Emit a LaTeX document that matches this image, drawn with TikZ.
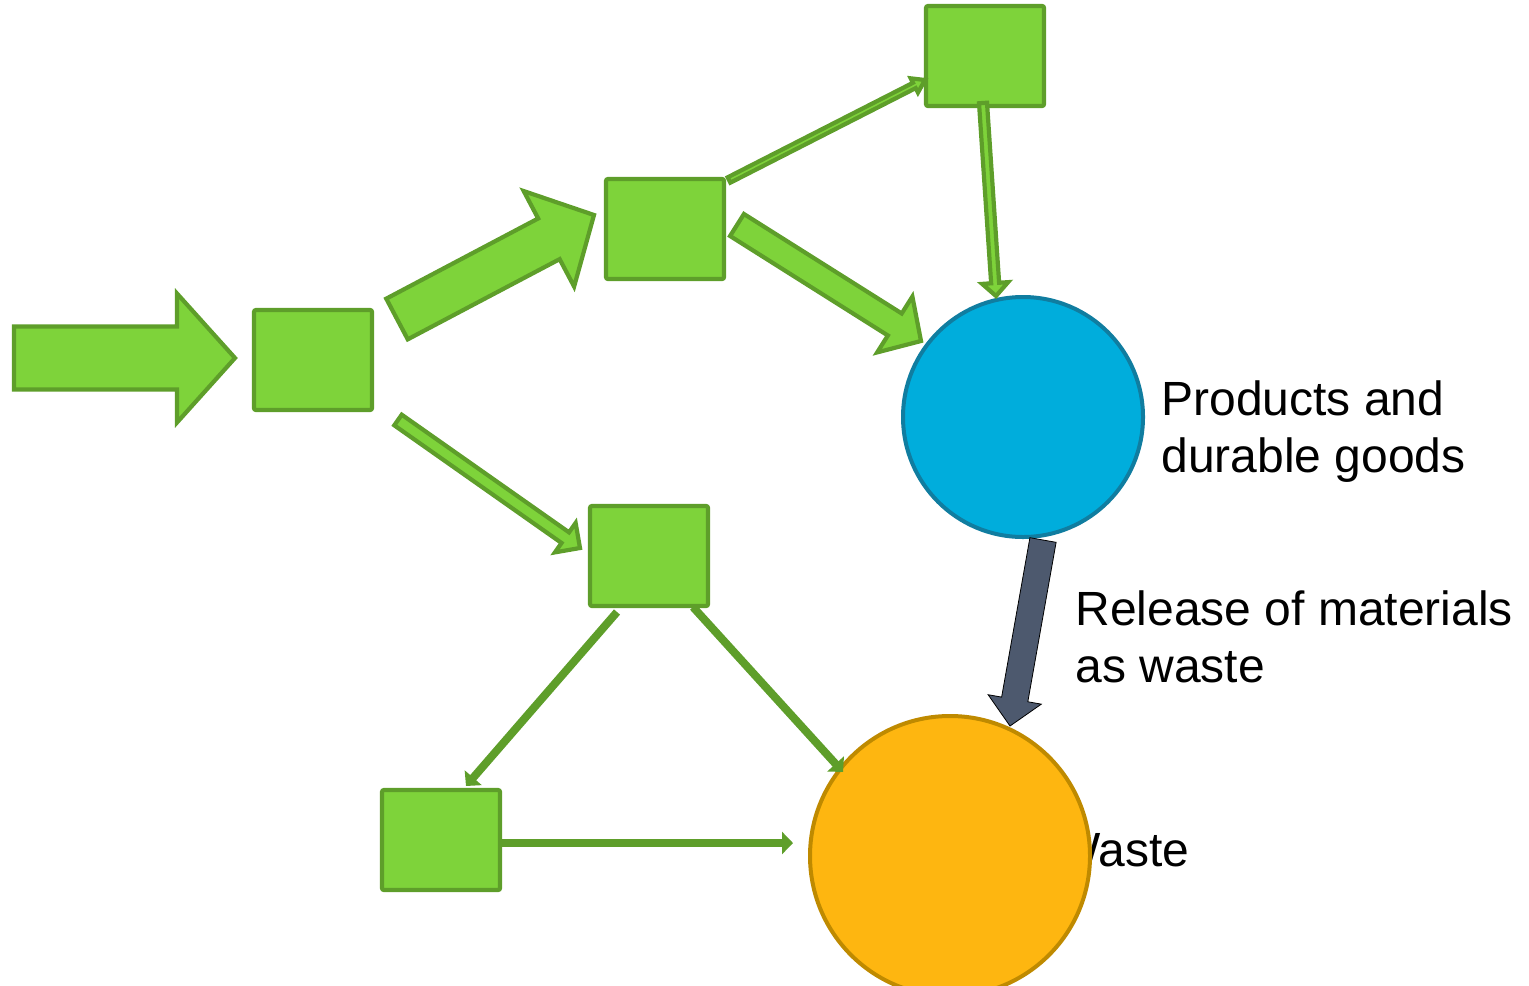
\documentclass[tikz,border=0pt]{standalone}
\usepackage{fontspec}
\setmainfont{Liberation Sans}
\usetikzlibrary{calc,arrows.meta}

\definecolor{boxfill}{HTML}{7ED33A}
\definecolor{boxline}{HTML}{5E9E2A}
\definecolor{prodfill}{HTML}{00ADDC}
\definecolor{prodline}{HTML}{107DA0}
\definecolor{wastefill}{HTML}{FEB610}
\definecolor{wasteline}{HTML}{BF8A00}
\definecolor{release}{HTML}{4D596E}

% Block arrow from #2 to #3: shaft half width #4, head half width #5, head length #6
\newcommand\flowarrow[6][]{%
  \draw[#1] ($(#2)!#4!90:(#3)$)
    -- ($(#3)!#6!(#2)!#4!-90:(#2)$)
    -- ($(#3)!#6!(#2)!#5!-90:(#2)$)
    -- (#3)
    -- ($(#3)!#6!(#2)!#5!90:(#2)$)
    -- ($(#3)!#6!(#2)!#4!90:(#2)$)
    -- ($(#2)!#4!-90:(#3)$) -- cycle;}

\tikzset{
  stage/.style={draw=boxline, fill=boxfill, line width=2.1pt, rounded corners=1pt,
    minimum width=59pt, minimum height=50pt, inner sep=0pt},
  pool/.style={circle, line width=2pt, inner sep=0pt},
  flow/.style={draw=boxline, fill=boxfill, line width=2.1pt},
  flowline/.style={draw=boxline, line width=4pt,
    -{Triangle[length=5.5pt,width=11pt]}},
  releaseflow/.style={fill=release},
  label/.style={font=\fontsize{24}{28.5}\selectfont, inner sep=0pt,
    align=left, anchor=base west}
}

\begin{document}
\begin{tikzpicture}[x=0.5pt,y=-0.5pt]
\path[use as bounding box] (0,0) rectangle (1529,985);

% process stages
\node[stage] (s1) at (313,360) {};
\node[stage] (s2) at (665,229) {};
\node[stage] (s3) at (985,56) {};
\node[stage] (s4) at (649,556) {};
\node[stage] (s5) at (441,840) {};

% stocks (the waste label sits partly under its circle)
\node[pool, draw=prodline, fill=prodfill, minimum size=120pt] (prod) at (1023,417) {};
\node[label] (wastetxt) at (1055,866) {Waste};
\node[pool, draw=wasteline, fill=wastefill, minimum size=140pt] (waste) at (950,856) {};

% two-line labels: the base anchor is on the last line
\node[label] (prodtxt) at (1161,472) {Products and\\durable goods};
\node[label] (reltxt) at (1075,682) {Release of materials\\as waste};

% connector end points
\coordinate (in0) at (14,358);
\coordinate (in1) at (235,358);
\coordinate (a2s) at (397,319);
\coordinate (a2e) at (594,215);
\coordinate (a3s) at (729,180);
\coordinate (a3e) at (925,80);
\coordinate (a4s) at (737,225);
\coordinate (a4e) at (921,341);
\coordinate (a5s) at (983,103);
\coordinate (a5e) at (996,296);
\coordinate (a6s) at (398,420);
\coordinate (a6e) at (580,548);
\coordinate (a7s) at (617,612);
\coordinate (a7e) at (466,786);
\coordinate (a8s) at (693,607);
\coordinate (a8e) at (843,772);
\coordinate (a9s) at (500,843);
\coordinate (a9e) at (793,843);
\coordinate (r0) at (1043,540);
\coordinate (r1) at (1010,726);

% material flows
\flowarrow[flow]{in0}{in1}{15.75pt}{32.25pt}{29pt}
\flowarrow[flow]{a2s}{a2e}{11.5pt}{27pt}{25.5pt}
\flowarrow[flow]{a3s}{a3e}{1.5pt}{4pt}{6pt}
\flowarrow[flow]{a4s}{a4e}{6.5pt}{16.5pt}{15.5pt}
\flowarrow[flow]{a5s}{a5e}{2pt}{6.5pt}{6.5pt}
\flowarrow[flow]{a6s}{a6e}{3.25pt}{9pt}{9pt}
\draw[flowline] (a7s) -- (a7e);
\draw[flowline] (a8s) -- (a8e);
\draw[flowline] (a9s) -- (a9e);
\flowarrow[releaseflow]{r0}{r1}{6.65pt}{13.5pt}{13.5pt}
\end{tikzpicture}
\end{document}
